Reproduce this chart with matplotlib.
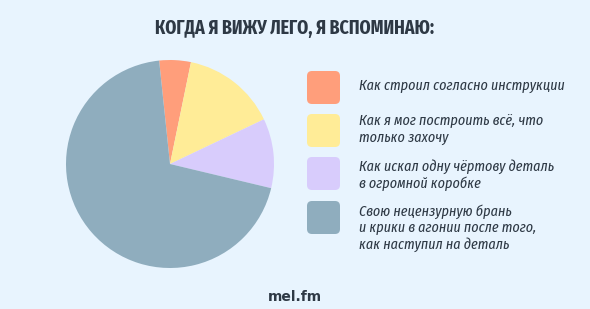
import matplotlib

matplotlib.use("AGG")

import matplotlib.pyplot as plt  # isort:skip
from matplotlib.patches import FancyBboxPatch  # isort:skip

W, H = 590, 309
BG = "#E8F4FE"
TEXT = "#2E3945"

title = "КОГДА Я ВИЖУ ЛЕГО, Я ВСПОМИНАЮ:"
labels = [
    "Как строил согласно инструкции",
    "Как я мог построить всё, что\nтолько захочу",
    "Как искал одну чёртову деталь\nв огромной коробке",
    "Свою нецензурную брань\nи крики в агонии после того,\nкак наступил на деталь",
]
shares = [4.9, 14.7, 10.8, 69.6]
colors = ["#FF9E7B", "#FFEC97", "#D8CCFC", "#8FADBE"]
source = "mel.fm"

FONT = ["Fira Sans Extra Condensed", "DejaVu Sans"]

fig = plt.figure(figsize=(W / 100, H / 100), dpi=100, facecolor=BG)

# pie, placed in pixel coordinates: centre (170, 164), radius 104
cx, cy, r = 170, 164, 104
ax = fig.add_axes([(cx - r) / W, (H - cy - r) / H, 2 * r / W, 2 * r / H])
ax.pie(shares, colors=colors, startangle=96, counterclock=False,
       wedgeprops={"linewidth": 0})
ax.set_xlim(-1, 1)
ax.set_ylim(-1, 1)
ax.set_aspect("equal")
ax.axis("off")

# overlay for text and legend, y measured from the top
ov = fig.add_axes([0, 0, 1, 1])
ov.set_xlim(0, W)
ov.set_ylim(H, 0)
ov.axis("off")
ov.patch.set_alpha(0)

ov.text(295, 28, title, ha="center", va="center", fontsize=14,
        fontweight="bold", color=TEXT, family=FONT)

box_tops = [71, 114, 157, 201]
text_tops = [79, 114, 159, 204]
for top, text_top, color, label in zip(box_tops, text_tops, colors, labels):
    ov.add_patch(FancyBboxPatch((307 + 5, top + 5), 23, 23,
                                boxstyle="round,pad=5", fc=color, ec="none"))
    ov.text(359, text_top, label, ha="left", va="top", fontsize=11,
            style="italic", fontweight="normal", color=TEXT, family=FONT,
            linespacing=1.2)

ov.text(295, 297, source, ha="center", va="center", fontsize=10,
        fontweight="bold", color=TEXT)

fig.savefig("out.png", dpi=100, facecolor=BG)
plt.close(fig)
